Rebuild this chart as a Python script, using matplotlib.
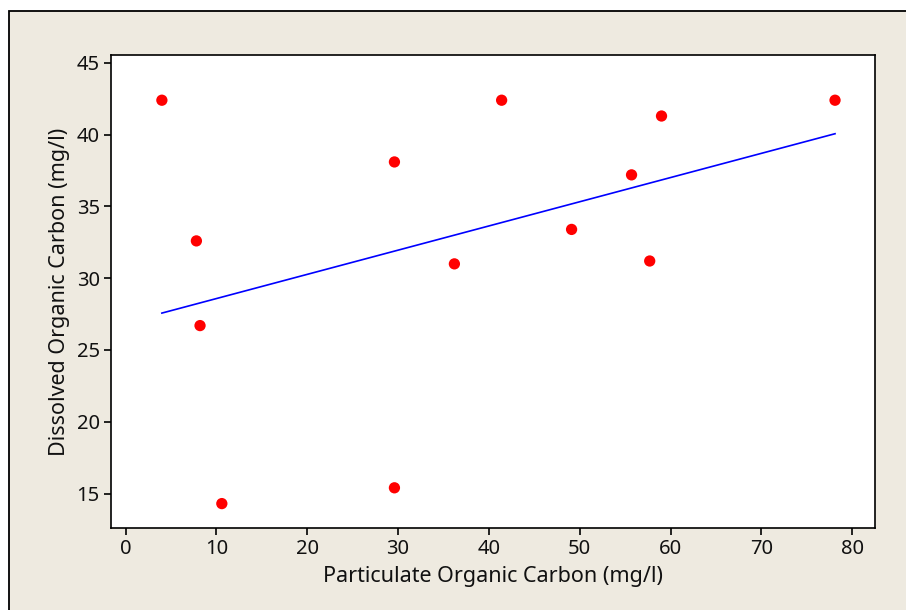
import numpy as np
import matplotlib
matplotlib.use("Agg")
import matplotlib.pyplot as plt
from matplotlib.patches import Rectangle

# Data
poc = [4.0, 7.8, 8.2, 10.6, 29.6, 29.6, 36.2, 41.4, 49.1, 55.7, 57.7, 59.0, 78.1]
doc = [42.4, 32.6, 26.7, 14.3, 38.1, 15.4, 31.0, 42.4, 33.4, 37.2, 31.2, 41.3, 42.4]
x_ticks = [0, 10, 20, 30, 40, 50, 60, 70, 80]
y_ticks = [15, 20, 25, 30, 35, 40, 45]
x_label = "Particulate Organic Carbon (mg/l)"
y_label = "Dissolved Organic Carbon (mg/l)"

W, H = 906, 610
fig = plt.figure(figsize=(W / 100, H / 100), dpi=100, facecolor="white")
bg = "#EEEAE0"
fig.patches.append(Rectangle((9 / W, -0.1), 1.2, 1 - 11 / H + 0.1,
                             transform=fig.transFigure, facecolor=bg,
                             edgecolor="black", linewidth=1.3, zorder=-5))

ax = fig.add_axes([111 / W, 1 - 528 / H, (875 - 111) / W, (528 - 55) / H])
ax.set_zorder(1)
ax.set_facecolor("white")

slope, intercept = np.polyfit(poc, doc, 1)
xs = np.array([min(poc), max(poc)])
ax.plot(xs, slope * xs + intercept, color="#0000FF", linewidth=1.2, zorder=2)
ax.scatter(poc, doc, s=66, color="#FF0000", edgecolors="none", zorder=3)

ax.set_xlim(-1.6, 82.5)
ax.set_ylim(12.6, 45.55)
ax.set_xticks(x_ticks)
ax.set_yticks(y_ticks)

font = "Noto Sans"
for sp in ax.spines.values():
    sp.set_color("black")
    sp.set_linewidth(1.2)
ax.tick_params(direction="out", length=5, width=1.2, colors="black",
               labelsize=14.5, pad=3)
for lab in ax.get_xticklabels() + ax.get_yticklabels():
    lab.set_fontfamily(font)
    lab.set_color("#111111")

ax.set_xlabel(x_label, fontsize=15.5, family=font, color="#111111", labelpad=5)
ax.set_ylabel(y_label, fontsize=15.5, family=font, color="#111111", labelpad=5)

fig.savefig("out.png", dpi=100, facecolor=fig.get_facecolor())
